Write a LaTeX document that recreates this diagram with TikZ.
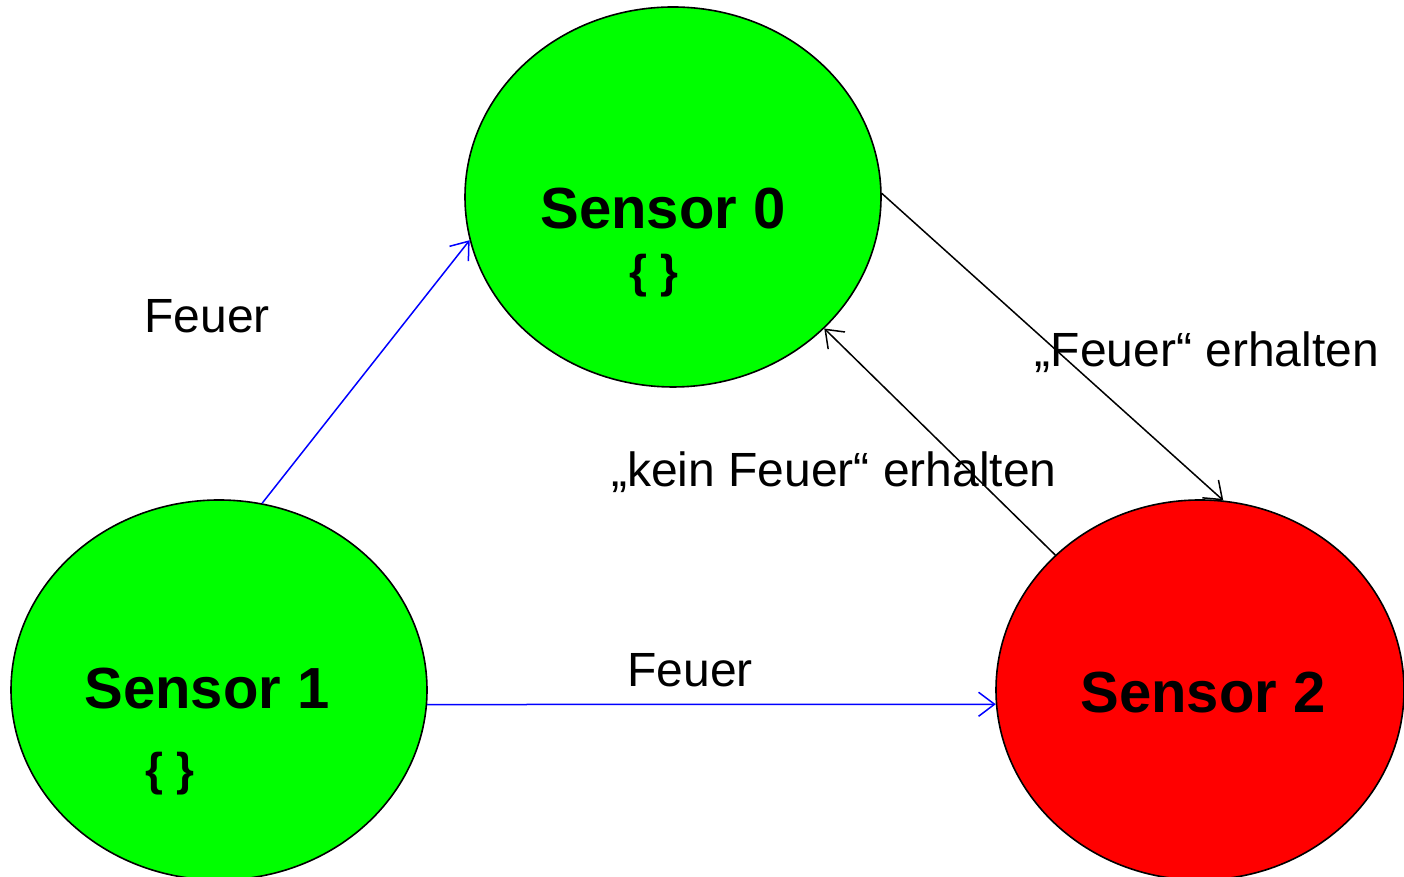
\documentclass[tikz,border=0pt]{standalone}
\usepackage{fontspec}
\setmainfont{Liberation Sans}
\usetikzlibrary{arrows.meta,shapes.geometric}
\definecolor{sgreen}{RGB}{0,255,0}
\definecolor{sred}{RGB}{255,0,0}
\definecolor{sblue}{RGB}{0,0,255}
\tikzset{
  sensor/.style={ellipse, draw=black, line width=0.8pt, minimum width=208pt, minimum height=190pt, inner sep=0pt},
  title/.style={font=\fontsize{29}{32}\selectfont\bfseries, inner sep=0pt},
  brace/.style={font=\fontsize{23}{26}\selectfont\bfseries, inner sep=0pt},
  lbl/.style={font=\fontsize{24}{28}\selectfont, inner sep=0pt},
  conn/.style={line width=0.75pt, -{Straight Barb[length=8pt,width=12pt,line width=0.75pt]}},
}
\begin{document}
\begin{tikzpicture}[x=0.5pt,y=0.5pt]
\useasboundingbox (0,0) rectangle (1404,877);
\node[sensor, fill=sgreen] (s0) at (673,680) {};
\node[sensor, fill=sgreen] (s1) at (219,187) {};
\node[sensor, fill=sred, minimum width=204pt] (s2) at (1200,187) {};
\node[title] (t0) at (663,668) {Sensor 0};
\node[brace] (b0) at (654,601) {\{ \}};
\node[title] (t1) at (207,188) {Sensor 1};
\node[brace] (b1) at (170,103) {\{ \}};
\node[title] (t2) at (1203,184) {Sensor 2};
\draw[conn, sblue] (s1.77) -- (s0.192);
\draw[conn, sblue] (s1.-4) -- (s2.184);
\draw[conn, black] (s0.1) -- (s2.83);
\draw[conn, black] (s2.137.5) -- (s0.-41.6);
\node[lbl] (l1) at (207,561) {Feuer};
\node[lbl] (l2) at (690,207) {Feuer};
\node[lbl] (l3) at (1207,525) {„Feuer“ erhalten};
\node[lbl] (l4) at (834,405) {„kein Feuer“ erhalten};
\end{tikzpicture}
\end{document}
